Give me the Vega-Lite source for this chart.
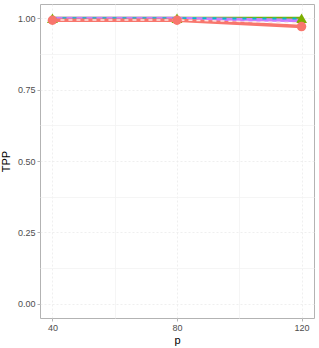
{
  "$schema": "https://vega.github.io/schema/vega-lite/v6.json",
  "width": 274,
  "height": 314,
  "autosize": {"type": "none"},
  "padding": {"left": 40, "top": 4, "right": 5, "bottom": 30},
  "background": "white",
  "config": {
    "view": {"stroke": "#b3b3b3", "strokeWidth": 1},
    "axis": {
      "domain": false,
      "gridColor": "#ebebeb",
      "gridWidth": 0.8,
      "gridDash": [2, 2],
      "tickColor": "#b3b3b3",
      "tickSize": 3,
      "labelColor": "#4d4d4d",
      "labelFont": "Liberation Sans",
      "labelFontSize": 9,
      "titleFont": "Liberation Sans",
      "titleFontSize": 11,
      "titleFontWeight": "normal",
      "titleColor": "#000000"
    }
  },
  "data": {
    "values": [
      {"p": 40, "method": "C", "TPP": 1.0},
      {"p": 80, "method": "C", "TPP": 1.0},
      {"p": 120, "method": "C", "TPP": 0.999},
      {"p": 40, "method": "D", "TPP": 0.999},
      {"p": 80, "method": "D", "TPP": 0.999},
      {"p": 120, "method": "D", "TPP": 0.992},
      {"p": 40, "method": "B", "TPP": 1.0},
      {"p": 80, "method": "B", "TPP": 1.0},
      {"p": 120, "method": "B", "TPP": 1.0},
      {"p": 40, "method": "A", "TPP": 0.993},
      {"p": 80, "method": "A", "TPP": 0.993},
      {"p": 120, "method": "A", "TPP": 0.971},
      {"p": 40, "method": "E", "TPP": 0.994},
      {"p": 80, "method": "E", "TPP": 0.994},
      {"p": 120, "method": "E", "TPP": 0.984}
    ]
  },
  "encoding": {
    "x": {
      "field": "p", "type": "quantitative",
      "scale": {"domain": [36, 124], "nice": false, "zero": false},
      "axis": {
        "values": [40, 60, 80, 100, 120],
        "labelExpr": "datum.value % 40 == 0 ? datum.label : ''",
        "tickOpacity": {"condition": {"test": "datum.value % 40 != 0", "value": 0}, "value": 1},
        "gridDash": {"condition": {"test": "datum.value % 40 != 0", "value": []}, "value": [2, 2]},
        "gridColor": {"condition": {"test": "datum.value % 40 != 0", "value": "#f2f2f2"}, "value": "#ebebeb"},
        "title": "p",
        "titlePadding": 2
      }
    },
    "y": {
      "field": "TPP", "type": "quantitative",
      "scale": {"domain": [-0.05, 1.05], "nice": false, "zero": false},
      "axis": {
        "values": [0, 0.125, 0.25, 0.375, 0.5, 0.625, 0.75, 0.875, 1.0],
        "labelExpr": "(datum.value * 4) % 1 == 0 ? format(datum.value, '.2f') : ''",
        "tickOpacity": {"condition": {"test": "(datum.value * 4) % 1 != 0", "value": 0}, "value": 1},
        "gridDash": {"condition": {"test": "(datum.value * 4) % 1 != 0", "value": []}, "value": [2, 2]},
        "gridColor": {"condition": {"test": "(datum.value * 4) % 1 != 0", "value": "#f2f2f2"}, "value": "#ebebeb"},
        "title": "TPP",
        "titlePadding": 6
      }
    }
  },
  "layer": [
    {
      "transform": [{"filter": "datum.method == 'B'"}],
      "mark": {"type": "line", "color": "#7CAE00", "strokeWidth": 3}
    },
    {
      "transform": [{"filter": "datum.method == 'D'"}],
      "mark": {"type": "line", "color": "#C77CFF", "strokeWidth": 3.5}
    },
    {
      "transform": [{"filter": "datum.method == 'C'"}],
      "mark": {"type": "line", "color": "#00BFC4", "strokeWidth": 2, "strokeDash": [4, 6]}
    },
    {
      "transform": [{"filter": "datum.method == 'B'"}],
      "mark": {"type": "point", "shape": "triangle-up", "filled": true, "opacity": 1, "color": "#7CAE00", "size": 120}
    },
    {
      "transform": [{"filter": "datum.method == 'A'"}],
      "mark": {"type": "line", "color": "#F8766D", "strokeWidth": 3.5}
    },
    {
      "transform": [{"filter": "datum.method == 'E'"}],
      "mark": {"type": "line", "color": "#FCE3E1", "strokeWidth": 1.5, "strokeDash": [4, 4]}
    },
    {
      "transform": [{"filter": "datum.method == 'A'"}],
      "mark": {"type": "point", "shape": "circle", "filled": true, "opacity": 1, "color": "#F8766D", "size": 90}
    }
  ]
}
